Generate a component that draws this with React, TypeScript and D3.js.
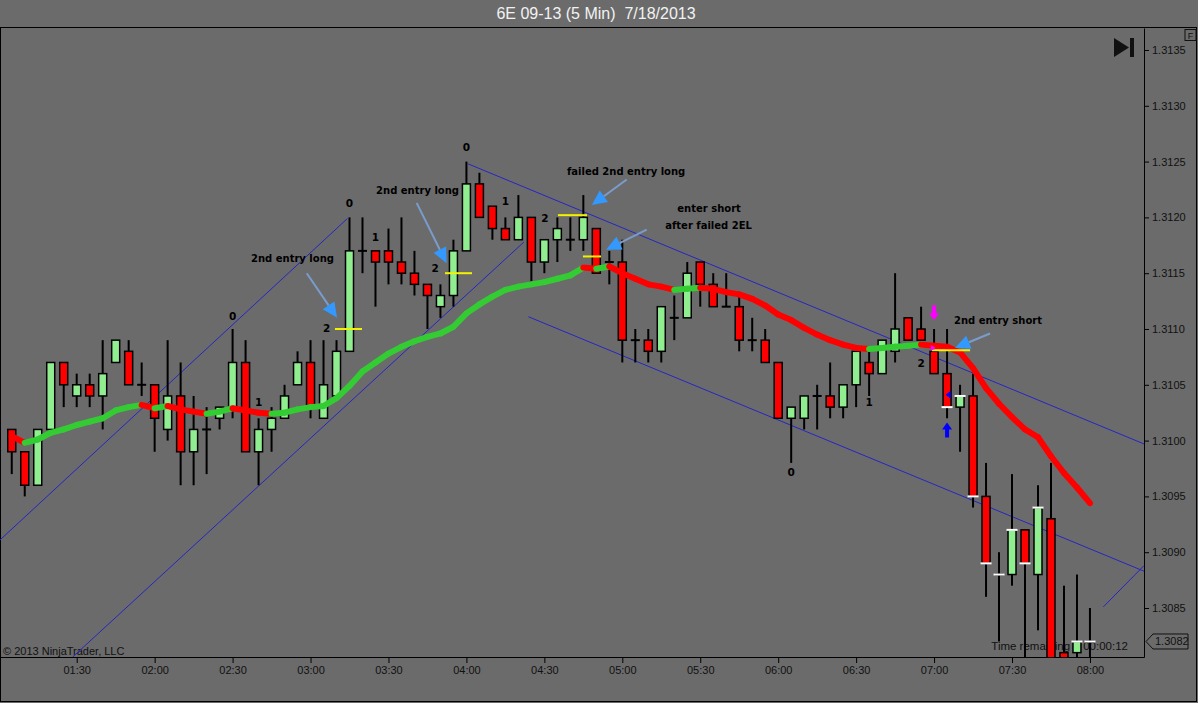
import React, { useRef, useEffect } from 'react';
import * as d3 from 'd3';

// 6E 09-13, 5 min bars starting 01:05
const barStart = new Date(2013, 6, 18, 1, 5);
const barMinutes = 5;

const opens = [
  1.3101, 1.3099, 1.3096, 1.3101, 1.3107, 1.3104, 1.3105, 1.3104, 1.3107, 1.3108,
  1.3105, 1.3105, 1.3101, 1.3104, 1.3099, 1.3101, 1.3102, 1.3103, 1.3107, 1.3099,
  1.3101, 1.3102, 1.3105, 1.3107, 1.3102, 1.3104, 1.3108, 1.3117, 1.3117, 1.3117,
  1.3116, 1.3115, 1.3114, 1.3112, 1.3113, 1.3117, 1.3123, 1.3121, 1.3119, 1.3118,
  1.312, 1.3116, 1.3118, 1.3118, 1.3118, 1.3119, 1.3116, 1.3116, 1.3109, 1.3109,
  1.3108, 1.3111, 1.3111, 1.3116, 1.3114, 1.3112, 1.3112, 1.3109, 1.3109, 1.3107,
  1.3102, 1.3102, 1.3104, 1.3104, 1.3103, 1.3105, 1.3107, 1.3106, 1.3108, 1.3111,
  1.311, 1.3108, 1.3106, 1.3103, 1.3104, 1.3095, 1.3088, 1.3088, 1.3092, 1.3088,
  1.3093, 1.3081, 1.3081, 1.3082,
];
const highs = [
  1.3101, 1.3099, 1.3101, 1.3107, 1.3107, 1.3106, 1.3106, 1.3109, 1.3109, 1.3109,
  1.3107, 1.3105, 1.3109, 1.3107, 1.3104, 1.3103, 1.3103, 1.311, 1.3109, 1.3102,
  1.3103, 1.3105, 1.3108, 1.3109, 1.3109, 1.3109, 1.312, 1.312, 1.3117, 1.3119,
  1.312, 1.3117, 1.3114, 1.3114, 1.3118, 1.3125, 1.3124, 1.3121, 1.312, 1.3122,
  1.312, 1.3118, 1.312, 1.312, 1.3122, 1.3119, 1.3117, 1.3118, 1.311, 1.311,
  1.3112, 1.3113, 1.3116, 1.3116, 1.3115, 1.3115, 1.3113, 1.3111, 1.311, 1.3107,
  1.3103, 1.3104, 1.3105, 1.3107, 1.3105, 1.3108, 1.3108, 1.3109, 1.3115, 1.3111,
  1.3112, 1.311, 1.311, 1.3105, 1.3106, 1.3098, 1.309, 1.3097, 1.3092, 1.3096,
  1.3098, 1.3087, 1.3088, 1.3085,
];
const lows = [
  1.3097, 1.3095, 1.3096, 1.3101, 1.3103, 1.3103, 1.3103, 1.3101, 1.3107, 1.3105,
  1.3104, 1.3099, 1.31, 1.3096, 1.3096, 1.3097, 1.3101, 1.3102, 1.3099, 1.3096,
  1.3099, 1.3102, 1.3105, 1.3102, 1.3102, 1.3104, 1.3108, 1.3115, 1.3112, 1.3114,
  1.3114, 1.3113, 1.311, 1.3111, 1.3112, 1.3117, 1.312, 1.3118, 1.3118, 1.3118,
  1.3114, 1.3115, 1.3116, 1.3117, 1.3117, 1.3115, 1.3114, 1.3107, 1.3107, 1.3107,
  1.3107, 1.3109, 1.3111, 1.3112, 1.3112, 1.3112, 1.3108, 1.3108, 1.3107, 1.3102,
  1.3098, 1.3101, 1.3101, 1.3102, 1.3102, 1.3103, 1.3104, 1.3106, 1.3107, 1.3109,
  1.3109, 1.3106, 1.3102, 1.3099, 1.3094, 1.3086, 1.3082, 1.3087, 1.3079, 1.3083,
  1.3079, 1.3079, 1.308, 1.3079,
];
const closes = [
  1.3099, 1.3096, 1.3101, 1.3107, 1.3105, 1.3105, 1.3104, 1.3106, 1.3109, 1.3105,
  1.3105, 1.3102, 1.3104, 1.3099, 1.3101, 1.3101, 1.3103, 1.3107, 1.3099, 1.3101,
  1.3102, 1.3104, 1.3107, 1.3103, 1.3105, 1.3108, 1.3117, 1.3117, 1.3116, 1.3116,
  1.3115, 1.3114, 1.3113, 1.3113, 1.3117, 1.3123, 1.312, 1.3119, 1.3118, 1.312,
  1.3116, 1.3118, 1.3119, 1.3118, 1.312, 1.3115, 1.3116, 1.3109, 1.3109, 1.3108,
  1.3112, 1.3111, 1.3115, 1.3114, 1.3112, 1.3112, 1.3109, 1.3109, 1.3107, 1.3102,
  1.3103, 1.3104, 1.3104, 1.3103, 1.3105, 1.3108, 1.3106, 1.3109, 1.311, 1.3109,
  1.3109, 1.3106, 1.3103, 1.3104, 1.3095, 1.3089, 1.3088, 1.3092, 1.3089, 1.3094,
  1.308, 1.308, 1.3082, 1.3082,
];
// moving average
const emaValues = [
  1.31004, 1.30998, 1.31001, 1.31007, 1.3101, 1.31014, 1.31017, 1.3102, 1.31027, 1.3103,
  1.31032, 1.31029, 1.31031, 1.31028, 1.31026, 1.31024, 1.31026, 1.31029, 1.31027, 1.31025,
  1.31024, 1.31025, 1.31028, 1.3103, 1.31031, 1.31038, 1.31049, 1.31062, 1.3107, 1.31078,
  1.31084, 1.31089, 1.31093, 1.31096, 1.31102, 1.31114, 1.31122, 1.31129, 1.31135, 1.31138,
  1.3114, 1.31142, 1.31145, 1.31148, 1.31155, 1.31154, 1.31156, 1.3115, 1.31145, 1.3114,
  1.31138, 1.31135, 1.31136, 1.31137, 1.31136, 1.31133, 1.31131, 1.31127, 1.31121, 1.31113,
  1.31108, 1.31101, 1.31095, 1.3109, 1.31086, 1.31083, 1.31082, 1.31083, 1.31084, 1.31085,
  1.31086, 1.31085, 1.31084, 1.31079, 1.31065, 1.31047, 1.31033, 1.31021, 1.3101, 1.31003,
  1.30986, 1.30971, 1.30958, 1.30944,
];

const priceTicks = [1.3085, 1.309, 1.3095, 1.31, 1.3105, 1.311, 1.3115, 1.312, 1.3125, 1.313, 1.3135];

// bar counts (bar index, price)
const countLabels = [
  { i: 17, p: 1.31111, text: '0' },
  { i: 19, p: 1.31034, text: '1' },
  { i: 24.25, p: 1.31101, text: '2' },
  { i: 26, p: 1.31213, text: '0' },
  { i: 28, p: 1.31182, text: '1' },
  { i: 32.6, p: 1.31154, text: '2' },
  { i: 35, p: 1.31263, text: '0' },
  { i: 38, p: 1.31214, text: '1' },
  { i: 41.05, p: 1.31199, text: '2' },
  { i: 60, p: 1.30972, text: '0' },
  { i: 66, p: 1.31034, text: '1' },
  { i: 70, p: 1.31069, text: '2' },
];

const notes = [
  { i: 21.61, p: 1.31163, text: '2nd entry long' },
  { i: 31.24, p: 1.31224, text: '2nd entry long' },
  { i: 47.29, p: 1.31241, text: 'failed 2nd entry long' },
  { i: 53.68, p: 1.31208, text: 'enter short' },
  { i: 53.64, p: 1.31193, text: 'after failed 2EL' },
  { i: 75.92, p: 1.31108, text: '2nd entry short' },
];
const noteArrows = [
  { i0: 22.71, p0: 1.3115, i1: 25.04, p1: 1.3111 },
  { i0: 31.17, p0: 1.31213, i1: 33.47, p1: 1.31159 },
  { i0: 47.34, p0: 1.31234, i1: 44.65, p1: 1.31211 },
  { i0: 48.88, p0: 1.31189, i1: 45.75, p1: 1.31171 },
  { i0: 75.31, p0: 1.31096, i1: 72.61, p1: 1.31083 },
];

const channels = [
  { i0: -0.905, p0: 1.30911, i1: 25.84, p1: 1.31199 },
  { i0: 4.68, p0: 1.30806, i1: 39.43, p1: 1.31178 },
  { i0: 35.12, p0: 1.31248, i1: 87.16, p1: 1.30997 },
  { i0: 39.77, p0: 1.31111, i1: 87.16, p1: 1.30883 },
  { i0: 84.03, p0: 1.30851, i1: 87.16, p1: 1.30888 },
];

const entryLines = [
  { i0: 24.88, i1: 26.96, p: 1.311 },
  { i0: 33.35, i1: 35.43, p: 1.3115 },
  { i0: 42.05, i1: 44.28, p: 1.31202 },
  { i0: 43.97, i1: 45.36, p: 1.31165 },
  { i0: 70.84, i1: 73.77, p: 1.31081 },
];

const stopTicks = [
  [72, 1.3103], [73, 1.3104], [74, 1.3095], [75, 1.3089], [76, 1.3088],
  [77, 1.3092], [78, 1.3089], [79, 1.3094], [82, 1.3082], [83, 1.3082],
];

const W = 1198;
const H = 703;
const plotRight = 1144;
const plotTop = 28;
const plotBottom = 657;
const bg = '#6b6b6b';
const font = 'Liberation Sans, Arial, sans-serif';
const noteFont = 'DejaVu Sans, sans-serif';

const barTime = (i: number) => new Date(barStart.getTime() + i * barMinutes * 60000);

const Chart = () => {
  const ref = useRef<SVGSVGElement>(null);

  useEffect(() => {
    const svg = d3.select(ref.current);
    svg.selectAll('*').remove();

    const x = d3.scaleTime().domain([barTime(-0.905), barTime(87.16)]).range([0, plotRight]);
    const y = d3.scaleLinear().domain([1.308061, 1.313697]).range([plotBottom, plotTop]);
    const bx = (i: number) => x(barTime(i));

    svg.append('rect').attr('width', W).attr('height', H).attr('fill', bg);

    // title
    svg
      .append('text')
      .text('6E 09-13 (5 Min)  7/18/2013')
      .attr('x', 596)
      .attr('y', 19)
      .attr('text-anchor', 'middle')
      .attr('font-size', 16)
      .attr('fill', '#f2f2f2')
      .style('font-family', font)
      .style('white-space', 'pre');

    svg
      .append('rect')
      .attr('x', 0.5)
      .attr('y', 27.5)
      .attr('width', 1196)
      .attr('height', 674)
      .attr('fill', 'none')
      .attr('stroke', '#000');

    svg.append('clipPath').attr('id', 'plot').append('rect')
      .attr('x', 0).attr('y', plotTop).attr('width', plotRight).attr('height', plotBottom - plotTop);

    const plot = svg.append('g').attr('clip-path', 'url(#plot)');

    plot
      .append('text')
      .text('© 2013 NinjaTrader, LLC')
      .attr('x', 3)
      .attr('y', 655)
      .attr('font-size', 11)
      .attr('fill', '#111')
      .style('font-family', font);

    plot
      .append('text')
      .text('Time remaining = 00:00:12')
      .attr('x', 1128)
      .attr('y', 650)
      .attr('text-anchor', 'end')
      .attr('font-size', 11.5)
      .attr('fill', '#111')
      .style('font-family', font);

    // channel lines
    plot
      .selectAll('line.ch')
      .data(channels)
      .enter()
      .append('line')
      .attr('x1', (d) => bx(d.i0))
      .attr('y1', (d) => y(d.p0))
      .attr('x2', (d) => bx(d.i1))
      .attr('y2', (d) => y(d.p1))
      .attr('stroke', '#2626c4')
      .attr('stroke-width', 1);

    // candles
    const idx = d3.range(opens.length);
    const candles = plot.append('g');
    candles
      .selectAll('line.wick')
      .data(idx)
      .enter()
      .append('line')
      .attr('x1', (i) => bx(i))
      .attr('x2', (i) => bx(i))
      .attr('y1', (i) => y(highs[i]))
      .attr('y2', (i) => y(lows[i]))
      .attr('stroke', '#000')
      .attr('stroke-width', 2);

    candles
      .selectAll('rect')
      .data(idx.filter((i) => opens[i] !== closes[i]))
      .enter()
      .append('rect')
      .attr('x', (i) => bx(i) - 4)
      .attr('width', 8)
      .attr('y', (i) => y(Math.max(opens[i], closes[i])))
      .attr('height', (i) => Math.abs(y(opens[i]) - y(closes[i])))
      .attr('fill', (i) => (closes[i] > opens[i] ? '#90ee90' : '#ff0000'))
      .attr('stroke', '#000')
      .attr('stroke-width', 1.5);

    candles
      .selectAll('line.doji')
      .data(idx.filter((i) => opens[i] === closes[i]))
      .enter()
      .append('line')
      .attr('x1', (i) => bx(i) - 4.5)
      .attr('x2', (i) => bx(i) + 4.5)
      .attr('y1', (i) => y(closes[i]))
      .attr('y2', (i) => y(closes[i]))
      .attr('stroke', '#000')
      .attr('stroke-width', 2);

    // moving average, coloured by slope
    plot
      .selectAll('line.ema')
      .data(idx.slice(1))
      .enter()
      .append('line')
      .attr('x1', (i) => bx(i - 1))
      .attr('y1', (i) => y(emaValues[i - 1]))
      .attr('x2', (i) => bx(i))
      .attr('y2', (i) => y(emaValues[i]))
      .attr('stroke', (i) => (emaValues[i] >= emaValues[i - 1] ? '#33cc33' : '#ff0000'))
      .attr('stroke-width', 6)
      .attr('stroke-linecap', 'round');

    // entry lines and stop ticks
    plot
      .selectAll('line.entry')
      .data(entryLines)
      .enter()
      .append('line')
      .attr('x1', (d) => bx(d.i0))
      .attr('x2', (d) => bx(d.i1))
      .attr('y1', (d) => y(d.p))
      .attr('y2', (d) => y(d.p))
      .attr('stroke', '#f2f200')
      .attr('stroke-width', 2);

    plot
      .selectAll('line.stop')
      .data(stopTicks)
      .enter()
      .append('line')
      .attr('x1', (d) => bx(d[0]) - 5.5)
      .attr('x2', (d) => bx(d[0]) + 5.5)
      .attr('y1', (d) => y(d[1]))
      .attr('y2', (d) => y(d[1]))
      .attr('stroke', '#fff')
      .attr('stroke-width', 2);

    // signal arrows
    const mx = bx(71);
    const my = y(1.31114);
    plot
      .append('path')
      .attr('d', `M${mx - 2},${my - 8}h4v8h3l-5,7l-5,-7h3z`)
      .attr('fill', '#ff00ff');
    plot
      .append('path')
      .attr('d', `M${bx(70.75)},${y(1.31083) - 3}l5,3l-5,3z`)
      .attr('fill', '#ff00ff');
    const ux = bx(72);
    const uy = y(1.3101);
    plot
      .append('path')
      .attr('d', `M${ux - 2},${uy + 8}h4v-8h3l-5,-7l-5,7h3z`)
      .attr('fill', '#0000ff');
    plot
      .append('path')
      .attr('d', `M${bx(72.2) - 4},${y(1.31041)}l5,-4v8z`)
      .attr('fill', '#0000ff');

    // counts
    plot
      .selectAll('text.count')
      .data(countLabels)
      .enter()
      .append('text')
      .text((d) => d.text)
      .attr('x', (d) => bx(d.i))
      .attr('y', (d) => y(d.p))
      .attr('dy', '0.35em')
      .attr('text-anchor', 'middle')
      .attr('font-size', 10.5)
      .attr('font-weight', 'bold')
      .attr('fill', '#000')
      .style('font-family', noteFont);

    // notes with arrows
    plot
      .selectAll('text.note')
      .data(notes)
      .enter()
      .append('text')
      .text((d) => d.text)
      .attr('x', (d) => bx(d.i))
      .attr('y', (d) => y(d.p))
      .attr('dy', '0.35em')
      .attr('text-anchor', 'middle')
      .attr('font-size', 10)
      .attr('font-weight', 'bold')
      .attr('fill', '#000')
      .style('font-family', noteFont);

    noteArrows.forEach((a) => {
      const x0 = bx(a.i0);
      const y0 = y(a.p0);
      const x1 = bx(a.i1);
      const y1 = y(a.p1);
      const len = Math.hypot(x1 - x0, y1 - y0);
      const ux2 = (x1 - x0) / len;
      const uy2 = (y1 - y0) / len;
      const baseX = x1 - ux2 * 15;
      const baseY = y1 - uy2 * 15;
      plot
        .append('line')
        .attr('x1', x0)
        .attr('y1', y0)
        .attr('x2', baseX)
        .attr('y2', baseY)
        .attr('stroke', '#7a9ccc')
        .attr('stroke-width', 2);
      plot
        .append('path')
        .attr(
          'd',
          `M${x1},${y1}L${baseX - uy2 * 7},${baseY + ux2 * 7}L${baseX + uy2 * 7},${baseY - ux2 * 7}Z`
        )
        .attr('fill', '#3399ff');
    });

    // axes
    const yAxis = svg
      .append('g')
      .attr('transform', `translate(${plotRight},0)`)
      .call(
        d3
          .axisRight(y)
          .tickValues(priceTicks)
          .tickFormat(d3.format('.4f'))
          .tickSize(5)
          .tickSizeOuter(0)
          .tickPadding(3)
      );
    const xAxis = svg
      .append('g')
      .attr('transform', `translate(0,${plotBottom})`)
      .call(
        d3
          .axisBottom(x)
          .ticks(d3.timeMinute.every(30))
          .tickFormat(d3.timeFormat('%H:%M') as any)
          .tickSize(6)
          .tickSizeOuter(0)
          .tickPadding(3)
      );
    [yAxis, xAxis].forEach((g) => {
      g.attr('font-size', 11).attr('font-family', font);
      g.selectAll('path, line').attr('stroke', '#000');
      g.selectAll('text').attr('fill', '#111');
    });

    // last price marker
    const lp = y(1.3082);
    svg
      .append('path')
      .attr('d', `M${plotRight + 2},${lp}L${plotRight + 9},${lp - 7.5}H${plotRight + 44}V${lp + 7.5}H${plotRight + 9}Z`)
      .attr('fill', bg)
      .attr('stroke', '#111');
    svg
      .append('text')
      .text('1.3082')
      .attr('x', plotRight + 11)
      .attr('y', lp)
      .attr('dy', '0.35em')
      .attr('font-size', 11)
      .attr('fill', '#111')
      .style('font-family', font);

    // chart controls
    svg.append('path').attr('d', 'M1114,38L1129,47.5L1114,57Z').attr('fill', '#111');
    svg.append('rect').attr('x', 1130).attr('y', 38).attr('width', 4).attr('height', 19).attr('fill', '#111');
    svg
      .append('rect')
      .attr('x', 1185)
      .attr('y', 29.5)
      .attr('width', 11)
      .attr('height', 11)
      .attr('fill', 'none')
      .attr('stroke', '#111');
    svg
      .append('text')
      .text('F')
      .attr('x', 1190.5)
      .attr('y', 38.5)
      .attr('text-anchor', 'middle')
      .attr('font-size', 9)
      .attr('fill', '#111')
      .style('font-family', font);
  }, []);

  return (
    <svg
      ref={ref}
      width={W}
      height={H}
      style={{ position: 'absolute', left: 0, top: 0, display: 'block' }}
    />
  );
};

export default function App() {
  return <Chart />;
}
